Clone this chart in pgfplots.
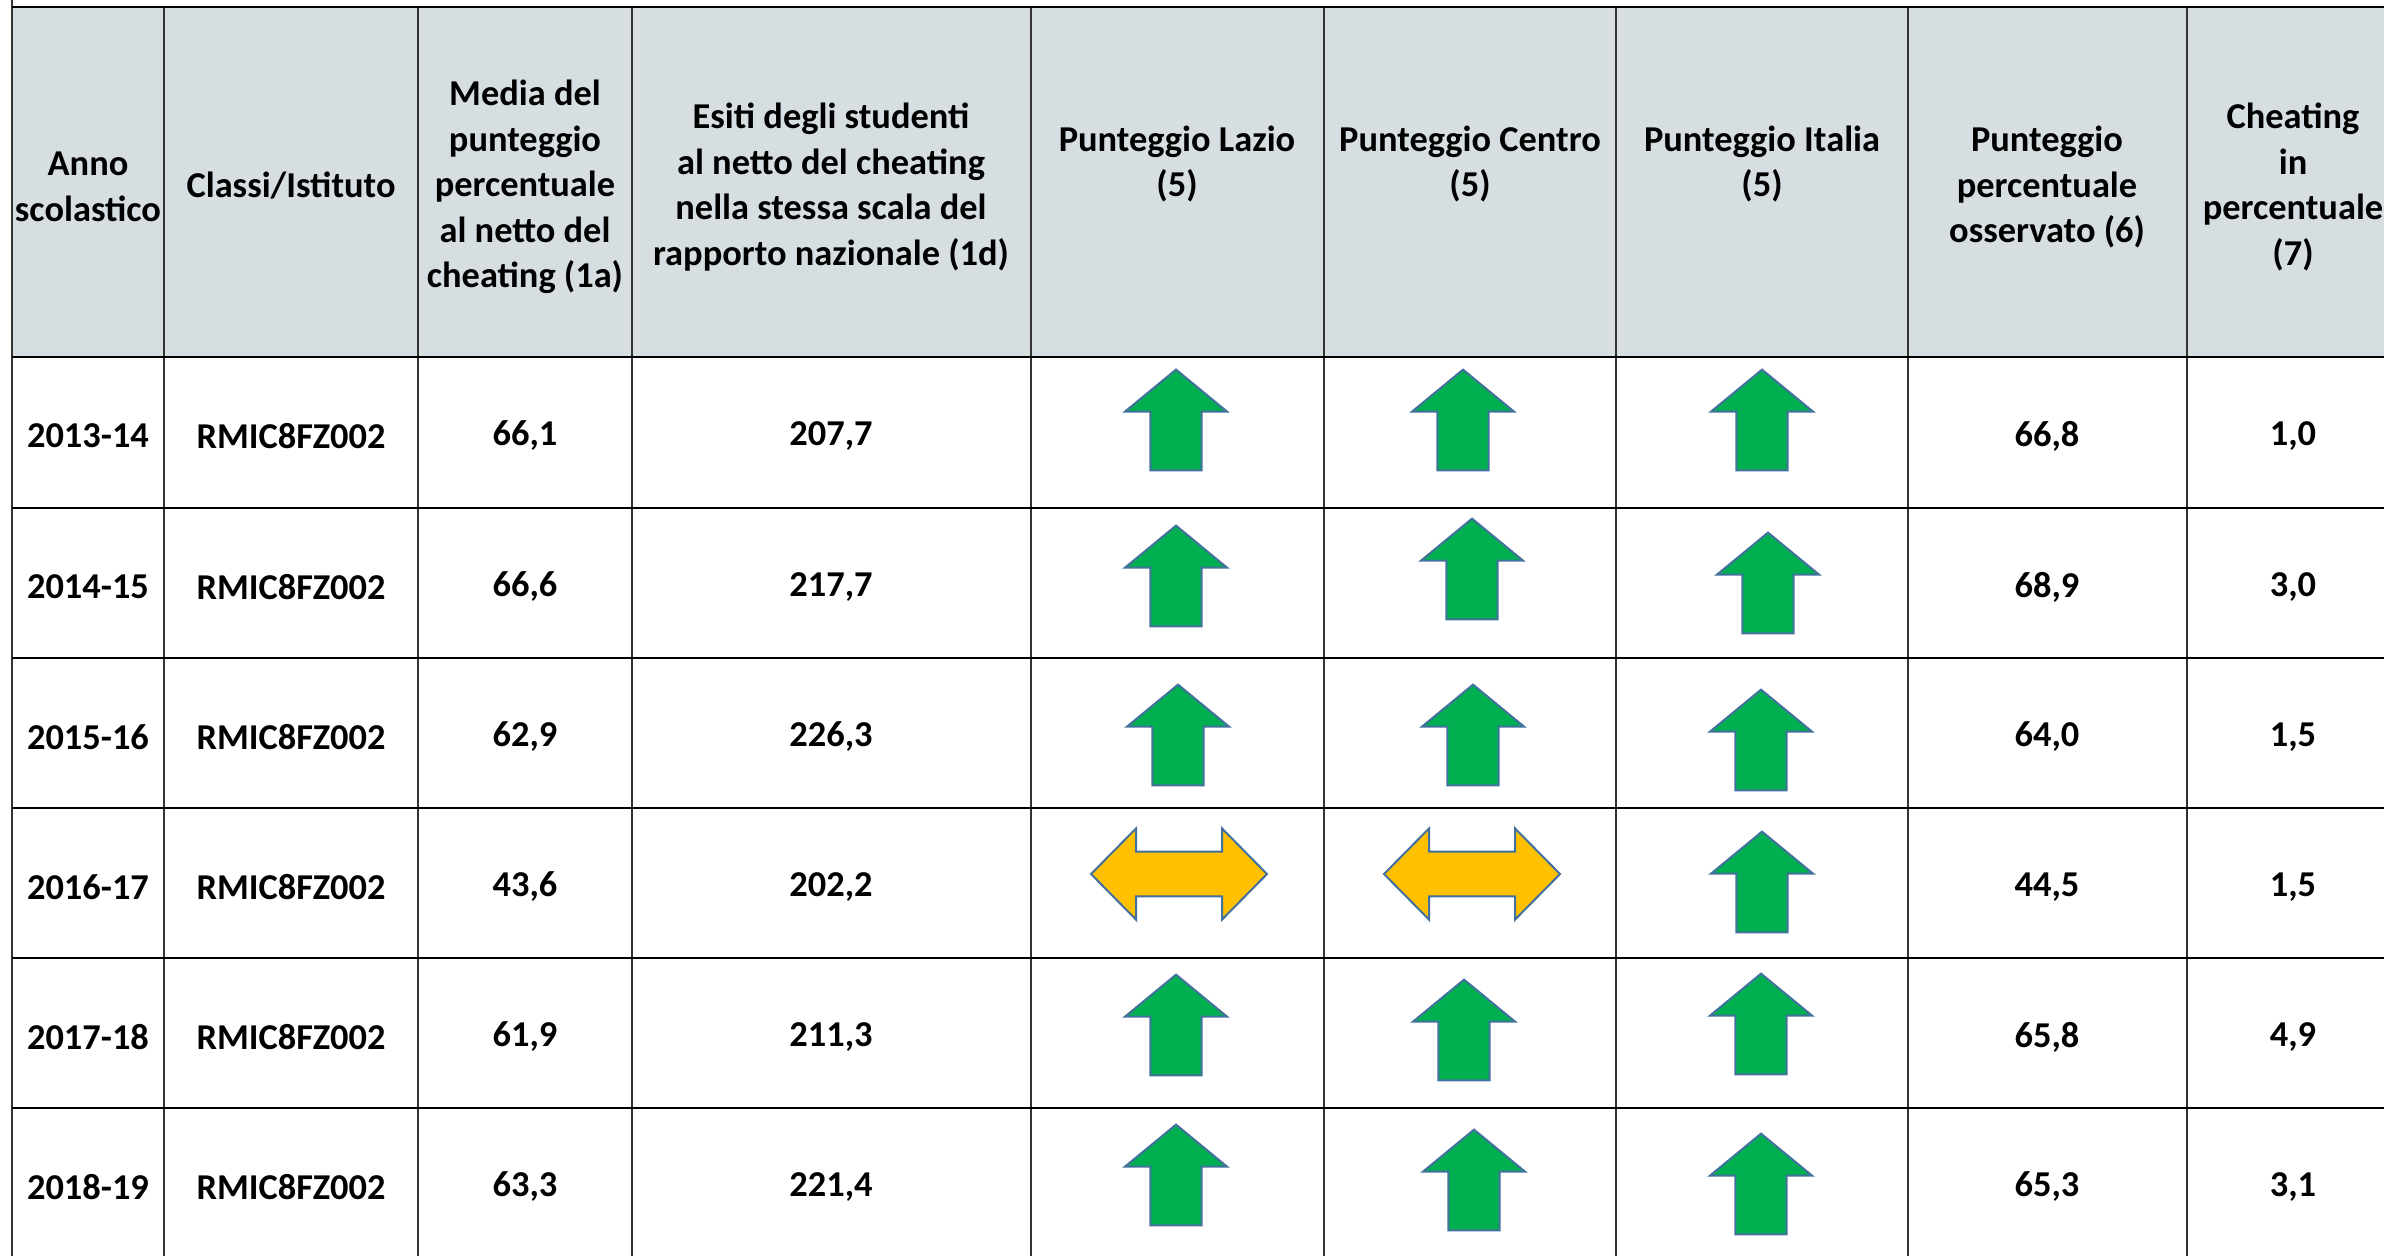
\documentclass[border=0pt]{standalone}
\usepackage{fontspec}
\setmainfont{Carlito}
\usepackage{pgfplots}
\usepackage{pgfplotstable}
\pgfplotsset{compat=1.18}
\definecolor{HeadBg}{HTML}{D6DEE2}
\definecolor{ArrGreen}{HTML}{00B050}
\definecolor{ArrYellow}{HTML}{FFC000}
\definecolor{ArrLine}{HTML}{41719C}
\definecolor{Rule}{HTML}{333333}

% up arrow, about 102 x 101 px of the reference
\pgfdeclareplotmark{uparr}{%
  \pgfpathmoveto{\pgfqpoint{0pt}{12.6pt}}%
  \pgfpathlineto{\pgfqpoint{12.75pt}{2.1pt}}%
  \pgfpathlineto{\pgfqpoint{6.4pt}{2.1pt}}%
  \pgfpathlineto{\pgfqpoint{6.4pt}{-12.6pt}}%
  \pgfpathlineto{\pgfqpoint{-6.4pt}{-12.6pt}}%
  \pgfpathlineto{\pgfqpoint{-6.4pt}{2.1pt}}%
  \pgfpathlineto{\pgfqpoint{-12.75pt}{2.1pt}}%
  \pgfpathclose
  \pgfusepathqfillstroke}
% left-right arrow
\pgfdeclareplotmark{lrarr}{%
  \pgfpathmoveto{\pgfqpoint{-22pt}{0pt}}%
  \pgfpathlineto{\pgfqpoint{-10.75pt}{11.4pt}}%
  \pgfpathlineto{\pgfqpoint{-10.75pt}{5.6pt}}%
  \pgfpathlineto{\pgfqpoint{10.75pt}{5.6pt}}%
  \pgfpathlineto{\pgfqpoint{10.75pt}{11.4pt}}%
  \pgfpathlineto{\pgfqpoint{22pt}{0pt}}%
  \pgfpathlineto{\pgfqpoint{10.75pt}{-11.4pt}}%
  \pgfpathlineto{\pgfqpoint{10.75pt}{-5.6pt}}%
  \pgfpathlineto{\pgfqpoint{-10.75pt}{-5.6pt}}%
  \pgfpathlineto{\pgfqpoint{-10.75pt}{-11.4pt}}%
  \pgfpathclose
  \pgfusepathqfillstroke}

\pgfplotstableread{
y anno classe media esiti oss cheat
436  2013-14 RMIC8FZ002 66,1 207,7 66,8 1,0
587  2014-15 RMIC8FZ002 66,6 217,7 68,9 3,0
737  2015-16 RMIC8FZ002 62,9 226,3 64,0 1,5
887  2016-17 RMIC8FZ002 43,6 202,2 44,5 1,5
1037 2017-18 RMIC8FZ002 61,9 211,3 65,8 4,9
1187 2018-19 RMIC8FZ002 63,3 221,4 65,3 3,1
}\tabdata

\newcommand{\cellfont}{\fontsize{9.1}{11.4}\selectfont\bfseries}

\begin{document}
\begin{tikzpicture}
  \path[use as bounding box] (0,0) rectangle (596pt,313.75pt);
  \clip (0,0) rectangle (596pt,313.75pt);
  \begin{axis}[
    at={(0,0)}, anchor=south west,
    scale only axis,
    width=596pt, height=313.75pt,
    xmin=0, xmax=2384, ymin=0, ymax=1255,
    y dir=reverse,
    hide axis,
    clip=false,
    every node near coord/.append style={anchor=center, font=\cellfont, text=black, inner sep=0pt},
  ]
    % header background
    \fill[HeadBg] (axis cs:12,7) rectangle (axis cs:2420,357);

    % column rules
    \draw[Rule, line width=0.55pt] (axis cs:12,0) -- (axis cs:12,1270);
    \foreach \xx in {164,418,632,1031,1324,1616,1908,2187}{
      \edef\tmp{\noexpand\draw[Rule, line width=0.55pt] (axis cs:\xx,7) -- (axis cs:\xx,1270);}\tmp
    }
    % row rules
    \foreach \yy in {7,357,508,658,808,958,1108}{
      \edef\tmp{\noexpand\draw[black, line width=0.7pt] (axis cs:12,\yy) -- (axis cs:2420,\yy);}\tmp
    }

    % header text
    \begin{scope}[every node/.style={font=\cellfont, align=center, inner sep=0pt}]
      \node at (axis cs:88,187)   {Anno\\scolastico};
      \node at (axis cs:291,186)  {Classi/Istituto};
      \node at (axis cs:525,187)  {Media del\\punteggio\\percentuale\\al netto del\\cheating (1a)};
      \node at (axis cs:831,187)  {Esiti degli studenti\\al netto del cheating\\nella stessa scala del\\rapporto nazionale (1d)};
      \node at (axis cs:1177,164) {Punteggio Lazio\\(5)};
      \node at (axis cs:1470,164) {Punteggio Centro\\(5)};
      \node at (axis cs:1762,164) {Punteggio Italia\\(5)};
      \node at (axis cs:2047,187) {Punteggio\\percentuale\\osservato (6)};
      \node at (axis cs:2293,187) {Cheating\\in\\percentuale\\(7)};
    \end{scope}

    % cell values
    \addplot[draw=none, nodes near coords, point meta=explicit symbolic]
      table[x expr=88, y=y, meta=anno] {\tabdata};
    \addplot[draw=none, nodes near coords, point meta=explicit symbolic]
      table[x expr=291, y=y, meta=classe] {\tabdata};
    \addplot[draw=none, nodes near coords, point meta=explicit symbolic]
      table[x expr=525, y=y, meta=media] {\tabdata};
    \addplot[draw=none, nodes near coords, point meta=explicit symbolic]
      table[x expr=831, y=y, meta=esiti] {\tabdata};
    \addplot[draw=none, nodes near coords, point meta=explicit symbolic]
      table[x expr=2047, y=y, meta=oss] {\tabdata};
    \addplot[draw=none, nodes near coords, point meta=explicit symbolic]
      table[x expr=2293, y=y, meta=cheat] {\tabdata};

    % trend arrows: up
    \addplot[only marks, mark=uparr, mark options={fill=ArrGreen, draw=ArrLine, line width=0.5pt}]
      coordinates {
        (1176,420) (1463,420) (1762,420)
        (1176,576) (1472,569) (1768,583)
        (1178,735) (1473,735) (1761,740)
        (1762,882)
        (1176,1025) (1464,1030) (1761,1024)
        (1176,1175) (1474,1180) (1761,1184)
      };
    % trend arrows: stable
    \addplot[only marks, mark=lrarr, mark options={fill=ArrYellow, draw=ArrLine, line width=0.5pt}]
      coordinates {(1179,874) (1472,874)};
  \end{axis}
\end{tikzpicture}
\end{document}
